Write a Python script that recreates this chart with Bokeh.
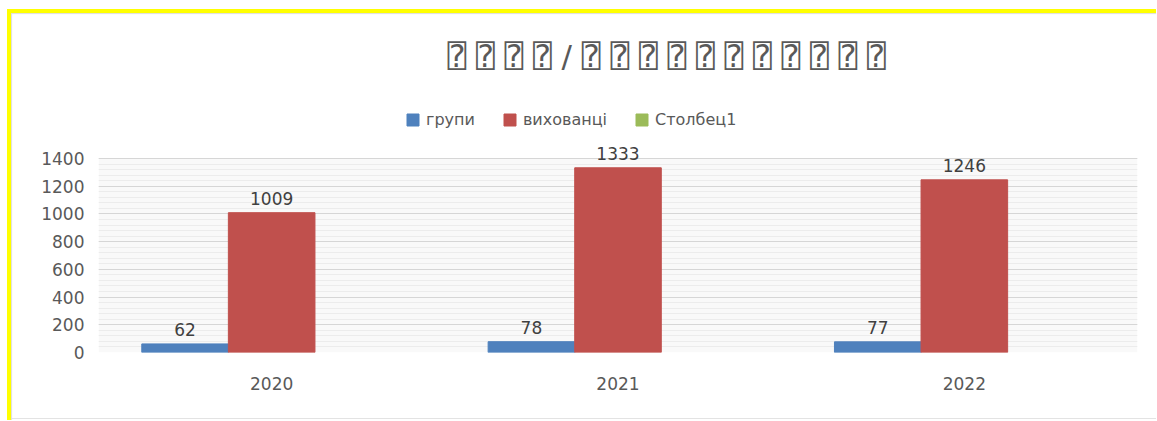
from bokeh.plotting import figure
from bokeh.models import (ColumnDataSource, FactorRange, Legend, LegendItem, Title,
                          FixedTicker, BoxAnnotation, InlineStyleSheet)
from bokeh.transform import dodge
from bokeh.core.properties import value
from bokeh.embed import file_html
from bokeh.resources import INLINE

years = ["2020", "2021", "2022"]
grupy = [62, 78, 77]
vykhovantsi = [1009, 1333, 1246]
stolbets1 = [float("nan"), float("nan"), float("nan")]
y_ticks = [0, 200, 400, 600, 800, 1000, 1200, 1400]
title_text = "⍰ ⍰ ⍰ ⍰ / ⍰ ⍰ ⍰ ⍰ ⍰ ⍰ ⍰ ⍰ ⍰ ⍰ ⍰"

src = ColumnDataSource(dict(
    years=years, grupy=grupy, vykhovantsi=vykhovantsi, stolbets1=stolbets1,
    grupy_lbl=[str(v) for v in grupy], vykh_lbl=[str(v) for v in vykhovantsi],
))

FONT = "DejaVu Sans"
GRAY = "#595959"

# frame spans from y=95 to y=352 px; value 1400 sits at y=158 px
y_top = 1400 + (158 - 95) * 1400 / (352 - 158)

p = figure(x_range=FactorRange(*years), y_range=(0, y_top),
           width=1141, height=405, output_backend="svg", toolbar_location=None,
           min_border_left=98, min_border_right=4, min_border_top=95,
           min_border_bottom=53, background_fill_color="white",
           border_fill_color="white", outline_line_color=None)

p.stylesheets = [InlineStyleSheet(css="""
:host::after {
  content: '';
  position: absolute;
  left: 7px; top: 9px; right: -15px; bottom: -15px;
  border-left: 4px solid #ffff00;
  border-top: 4px solid #ffff00;
  box-shadow: inset 1px 1px 1px #dddddd;
  pointer-events: none;
  z-index: 10;
}
:host::before {
  content: '';
  position: absolute;
  left: 11px; right: -15px; top: 418px; height: 1px;
  background: #e3e3e3;
  pointer-events: none;
  z-index: 10;
}
""")]

p.add_layout(BoxAnnotation(bottom=0, top=1400, fill_color="#f9f9f9",
                           fill_alpha=1, line_color=None, level="image"))

blue = "#4f81bd"
red = "#c0504d"
green = "#9bbb59"
w = 0.25
r1 = p.vbar(x=dodge("years", -0.25, range=p.x_range), top="grupy", width=w,
            source=src, color=blue)
r2 = p.vbar(x=dodge("years", 0.0, range=p.x_range), top="vykhovantsi", width=w,
            source=src, color=red)
r3 = p.vbar(x=dodge("years", 0.25, range=p.x_range), top="stolbets1", width=w,
            source=src, color=green)

p.text(x=dodge("years", -0.25, range=p.x_range), y="grupy", text="grupy_lbl",
       source=src, text_align="center", text_baseline="bottom", y_offset=-8,
       text_font=value(FONT), text_font_size="17px", text_color="#404040")
p.text(x=dodge("years", 0.0, range=p.x_range), y="vykhovantsi", text="vykh_lbl",
       source=src, text_align="center", text_baseline="bottom", y_offset=-8,
       text_font=value(FONT), text_font_size="17px", text_color="#404040")

# axes
p.yaxis.ticker = FixedTicker(ticks=y_ticks, minor_ticks=list(range(0, 1401, 40)))
for ax in (p.xaxis[0], p.yaxis[0]):
    ax.axis_line_color = None
    ax.major_tick_line_color = None
    ax.minor_tick_line_color = None
    ax.major_label_text_font = FONT
    ax.major_label_text_font_size = "17px"
    ax.major_label_text_color = GRAY
p.yaxis.major_label_standoff = 8
p.xaxis.major_label_standoff = 18

p.xgrid.grid_line_color = None
p.ygrid.grid_line_color = "#d6d6d6"
p.ygrid.minor_grid_line_color = "#ececec"

legend = Legend(items=[
    LegendItem(label="групи", renderers=[r1]),
    LegendItem(label="вихованці", renderers=[r2]),
    LegendItem(label="Столбец1", renderers=[r3]),
], orientation="horizontal", location=(307, 223), margin=0, padding=0,
    spacing=27, glyph_width=15, glyph_height=15, label_standoff=6,
    label_text_font=FONT, label_text_font_size="16px", label_text_color=GRAY,
    border_line_color=None, background_fill_alpha=0)
p.add_layout(legend)

p.title = Title(text=title_text, align="left", offset=349,
                text_font="'DejaVu Sans', 'DejaVu Sans Mono'", text_font_size="31px",
                text_color="#595959", text_font_style="normal", standoff=43)

open("out.html", "w").write(file_html(p, INLINE))
